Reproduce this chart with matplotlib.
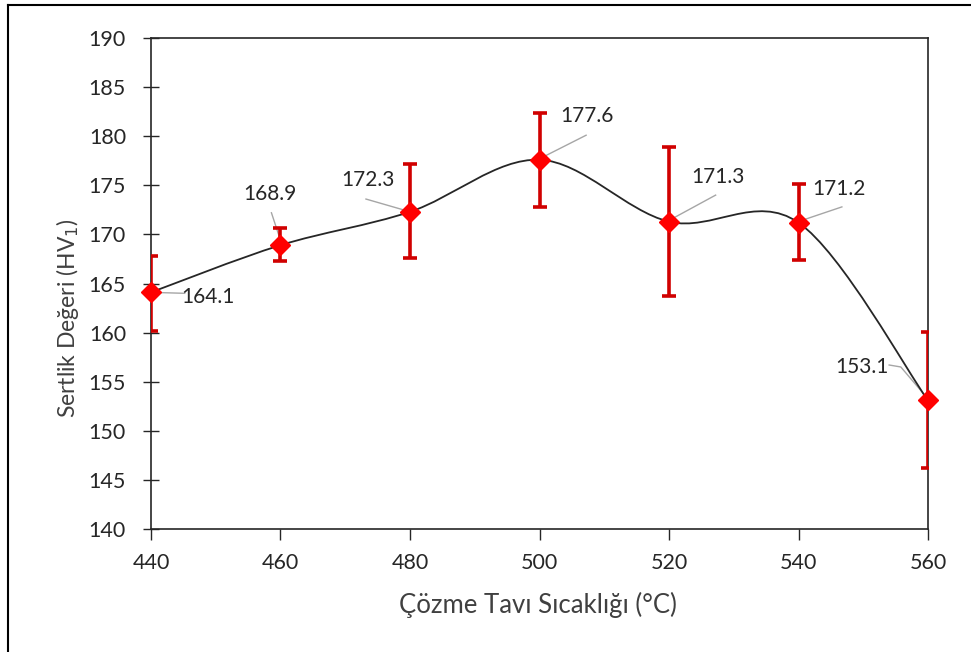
import numpy as np
import matplotlib
matplotlib.use("Agg")
import matplotlib.pyplot as plt
from matplotlib.path import Path
from matplotlib.patches import PathPatch
from matplotlib.lines import Line2D

# ---- data ----
temps = [440, 460, 480, 500, 520, 540, 560]
hardness = [164.1, 168.9, 172.3, 177.6, 171.3, 171.2, 153.1]
err_up = [3.7, 1.8, 4.9, 4.8, 7.6, 3.9, 7.0]
err_lo = [3.9, 1.6, 4.7, 4.8, 7.6, 3.8, 6.9]
labels = ["164.1", "168.9", "172.3", "177.6", "171.3", "171.2", "153.1"]
# label text positions (data coords)
label_x = [448.8, 458.4, 473.5, 507.3, 527.6, 546.3, 549.8]
label_y = [163.6, 174.1, 175.5, 182.1, 175.8, 174.6, 156.5]
xticks = [440, 460, 480, 500, 520, 540, 560]
yticks = list(range(140, 191, 5))

plt.rcParams['font.family'] = ['Lato', 'DejaVu Sans']

W, H = 971, 652
fig = plt.figure(figsize=(W/100, H/100), dpi=100)
ax = fig.add_axes([151/W, 1-529/H, (928-151)/W, (529-38)/H])

# smooth (Excel-style Catmull-Rom Bezier) curve
P = np.column_stack([temps, hardness]).astype(float)
n = len(P)
verts = [tuple(P[0])]
codes = [Path.MOVETO]
for i in range(n-1):
    p0 = P[i-1] if i > 0 else P[i]
    p1 = P[i]
    p2 = P[i+1]
    p3 = P[i+2] if i+2 < n else P[i+1]
    c1 = p1 + (p2 - p0)/6.0
    c2 = p2 - (p3 - p1)/6.0
    verts += [tuple(c1), tuple(c2), tuple(p2)]
    codes += [Path.CURVE4]*3
ax.add_patch(PathPatch(Path(verts, codes), facecolor='none', edgecolor='#262626', lw=1.3, zorder=3))

# error bars
ax.errorbar(temps, hardness, yerr=[err_lo, err_up], fmt='none', ecolor='#D00000',
            elinewidth=2.6, capsize=4.8, capthick=2.6, zorder=4, clip_on=True)
# markers
ax.plot(temps, hardness, linestyle='none', marker='D', markersize=10,
        color='#FF0000', markeredgecolor='#FF0000', zorder=5, clip_on=False)

# data labels
for lx, ly, t in zip(label_x, label_y, labels):
    ax.text(lx, ly, t, fontsize=15, color='#262626', ha='center', va='center', zorder=6)

# leader lines
leaders = [
    ([440, 445.2], [164.1, 164.0]),
    ([458.6, 459.9], [172.2, 169.6]),
    ([473.2, 479.5], [173.6, 172.4]),
    ([500.3, 507.2], [177.8, 180.1]),
    ([520.5, 527.2], [171.6, 174.0]),
    ([540.4, 546.7], [171.4, 172.8]),
    ([554.0, 555.8, 559.8], [156.7, 156.5, 153.4]),
]
for xs, ys in leaders:
    ax.plot(xs, ys, color='#A6A6A6', lw=1.0, zorder=2, clip_on=False)

ax.set_xlim(440, 560)
ax.set_ylim(140, 190)
ax.set_xticks(xticks)
ax.set_yticks(yticks)
ax.tick_params(axis='both', labelsize=15.5, colors='#262626', width=1.0)
ax.tick_params(axis='y', direction='inout', length=12, pad=12)
ax.tick_params(axis='x', direction='out', length=8, pad=9)
for s in ax.spines.values():
    s.set_color('#262626')
    s.set_linewidth(1.2)

fig.text(538/W, 1-605/H, 'Çözme Tavı Sıcaklığı (°C)', fontsize=18.5, color='#404040',
         ha='center', va='center')
fig.text(67/W, 1-318/H, 'Sertlik Değeri (HV$_1$)', fontsize=16.5, color='#404040',
         ha='center', va='center', rotation=90)

# figure border (top and left)
fig.add_artist(Line2D([8/W, 8/W], [0, 1-5/H], transform=fig.transFigure, color='black', lw=1.5))
fig.add_artist(Line2D([8/W, 1], [1-5/H, 1-5/H], transform=fig.transFigure, color='black', lw=1.5))

fig.savefig('out.png', dpi=100)
